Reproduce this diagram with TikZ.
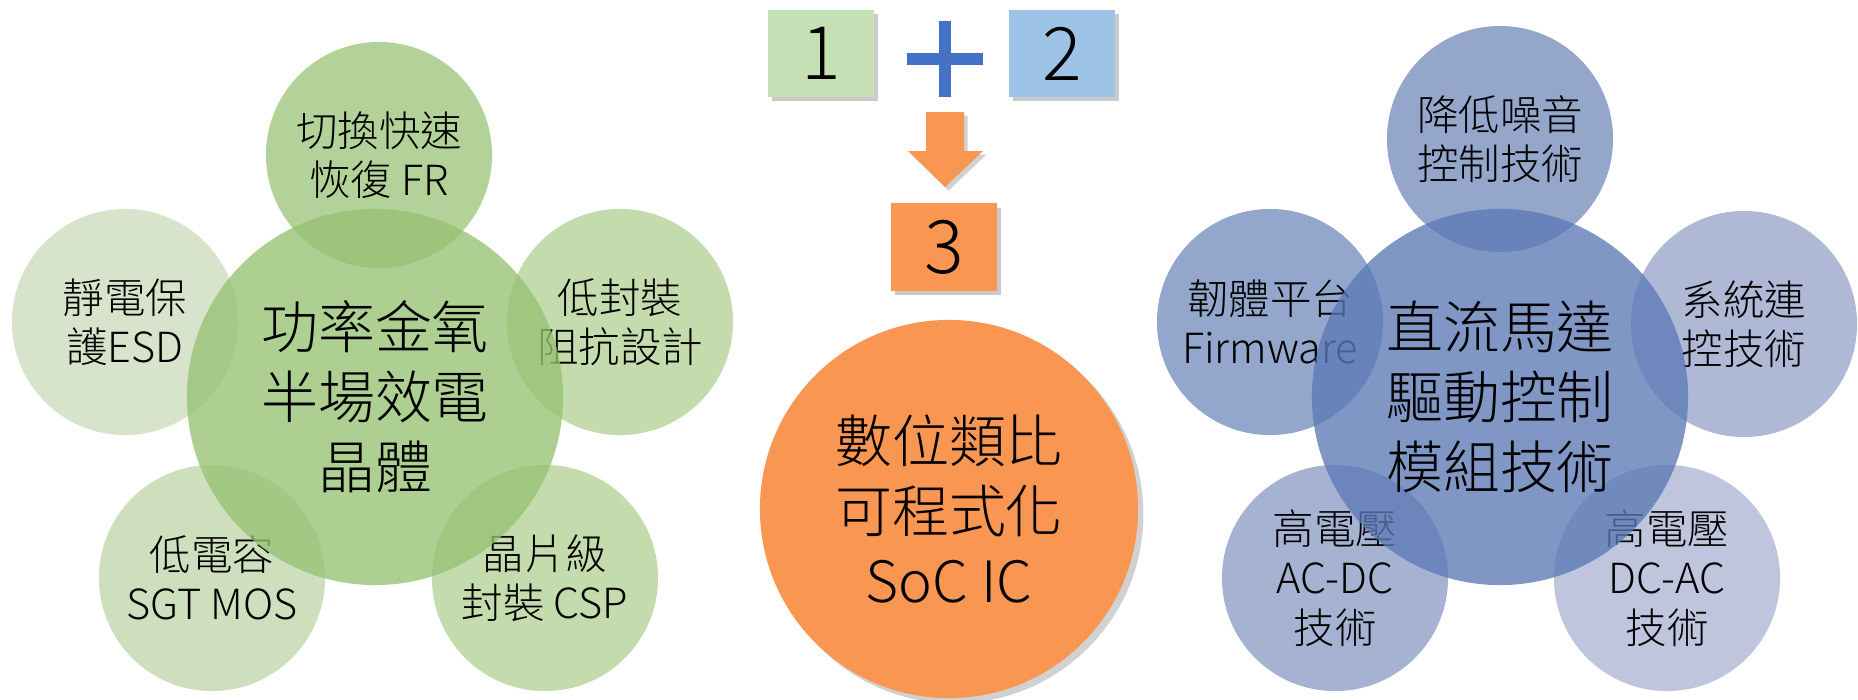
\documentclass[tikz,border=0pt]{standalone}
\usepackage{fontspec}
\setmainfont{Noto Sans CJK TC Light}
\usetikzlibrary{shadows}
\definecolor{gTop}{RGB}{179,210,154}
\definecolor{gLeft}{RGB}{215,228,203}
\definecolor{gRight}{RGB}{196,219,174}
\definecolor{gBL}{RGB}{206,223,189}
\definecolor{gBR}{RGB}{195,219,173}
\definecolor{gCenter}{RGB}{150,194,115}
\definecolor{bTop}{RGB}{148,167,203}
\definecolor{bLeft}{RGB}{147,166,203}
\definecolor{bRight}{RGB}{175,185,214}
\definecolor{bBL}{RGB}{165,178,210}
\definecolor{bBR}{RGB}{190,197,220}
\definecolor{bCenter}{RGB}{92,122,182}
\definecolor{orng}{RGB}{248,150,82}
\definecolor{box1}{RGB}{197,224,180}
\definecolor{box2}{RGB}{157,195,230}
\definecolor{plusblue}{RGB}{68,114,196}
\begin{document}
\begin{tikzpicture}[x=0.01cm,y=-0.01cm,
  sat/.style={circle, inner sep=0pt, minimum size=2.26cm, align=center,
    font=\fontsize{11.8}{14}\selectfont},
  hub/.style={circle, inner sep=0pt, minimum size=3.76cm, align=center,
    fill opacity=0.78, text opacity=1,
    font=\fontsize{16.2}{19.9}\selectfont},
  numbox/.style={rectangle, inner sep=0pt, minimum width=1.06cm, minimum height=0.87cm,
    font=\fontsize{21}{24}\selectfont,
    drop shadow={shadow xshift=1.2pt, shadow yshift=-1.2pt, opacity=0.35, fill=black!60}}
]
\useasboundingbox (0,0) rectangle (1858,699);

% ---------- left group ----------
\node[sat, fill=gTop]   (l1) at (379,155) {切換快速\\恢復 FR};
\node[sat, fill=gLeft]  (l2) at (125,322) {靜電保\\護ESD};
\node[sat, fill=gRight] (l3) at (620,322) {低封裝\\阻抗設計};
\node[sat, fill=gBL]    (l4) at (212,578) {低電容\\SGT MOS};
\node[sat, fill=gBR]    (l5) at (545,578) {晶片級\\封裝 CSP};
\node[hub, fill=gCenter] (lc) at (375,397) {功率金氧\\半場效電\\晶體};

% ---------- middle ----------
\node[numbox, fill=box1] (n1) at (821,53.5) {1};
\node[numbox, fill=box2] (n2) at (1062,53.5) {2};
\fill[plusblue] (939,21) rectangle (951,97);
\fill[plusblue] (907,53) rectangle (983,65);
\node[numbox, fill=orng] (n3) at (944,247) {3};
\fill[orng, drop shadow={shadow xshift=1pt, shadow yshift=-1pt, opacity=0.3, fill=black!60}]
  (926,112) -- (964,112) -- (964,151) -- (983,151) -- (945,187) -- (908,151) -- (926,151) -- cycle;
\node[circle, inner sep=0pt, minimum size=3.78cm, fill=orng, align=center,
  font=\fontsize{16.2}{19.9}\selectfont,
  drop shadow={shadow xshift=1.5pt, shadow yshift=-1.5pt, opacity=0.3, fill=black!60}]
  (soc) at (949,509) {數位類比\\可程式化\\SoC IC};

% ---------- right group ----------
\node[sat, fill=bTop]   (r1) at (1500,139) {降低噪音\\控制技術};
\node[sat, fill=bLeft]  (r2) at (1270,322) {韌體平台\\Firmware};
\node[sat, fill=bRight] (r3) at (1744,324) {系統連\\控技術};
\node[sat, fill=bBL]    (r4) at (1335,578) {高電壓\\AC-DC\\技術};
\node[sat, fill=bBR]    (r5) at (1667,578) {高電壓\\DC-AC\\技術};
\node[hub, fill=bCenter] (rc) at (1500,397) {直流馬達\\驅動控制\\模組技術};
\end{tikzpicture}
\end{document}
